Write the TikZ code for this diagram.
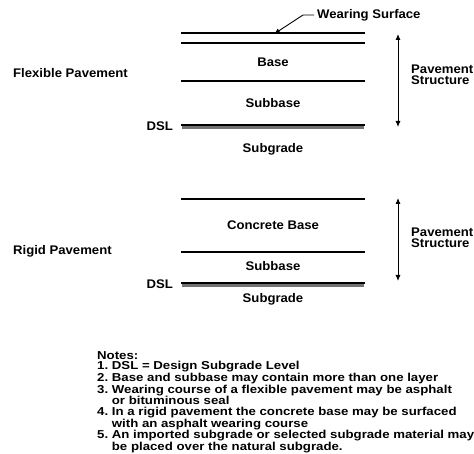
\documentclass[tikz,border=0pt]{standalone}
\usepackage{fontspec}
\setmainfont{Liberation Sans}
\newfontfamily\widesans[FakeStretch=1.15]{Liberation Sans}
\newfontfamily\lblsans[FakeStretch=1.05]{Liberation Sans}
\usetikzlibrary{arrows.meta,positioning}

\tikzset{
	layer/.style={line width=1.4pt},
	band/.style={fill=black!55},
	lbl/.style={font=\lblsans\fontsize{12.5}{11}\selectfont\bfseries, inner sep=0pt},
	side/.style={lbl, anchor=west, align=left},
	notes/.style={font=\widesans\fontsize{11.5}{10.5}\selectfont\bfseries\frenchspacing, inner sep=0pt, anchor=north west, align=left},
	pstruct/.style={line width=0.9pt, {Latex[length=6pt,width=5pt]}-{Latex[length=6pt,width=5pt]}},
}

\begin{document}
\begin{tikzpicture}[x=1pt, y=-1pt]
			%%%%% START %%%%%
			\useasboundingbox (0,0) rectangle (474,454);
			
			% flexible pavement
			\draw[layer] (181,33) -- (365,33);
			\draw[layer] (181,43) -- (365,43);
			\draw[layer] (181,81) -- (365,81);
			\fill[band] (182,125) rectangle (364,129.5);
			\draw[layer] (181,125) -- (365,125);
			
			\node[lbl, anchor=west] (wsurf) at (317,15) {Wearing Surface};
			\coordinate (wsend) at (274,34);
			\draw[line width=0.9pt, -{Latex[length=6pt,width=5pt]}] ([xshift=-3pt]wsurf.west) -- ++(-11,0) -- (wsend);
			
			\node[lbl] (fbase) at (273,62) {Base};
			\node[lbl] (fsubbase) at (273,103) {Subbase};
			\node[lbl] (fsubgrade) at (273,149) {Subgrade};
			\node[lbl, anchor=east] (fdsl) at (173,126) {DSL};
			\node[side] (flex) at (13,73) {Flexible Pavement};
			
			\coordinate (ftop) at (398,34);
			\coordinate (fbot) at (398,127);
			\draw[pstruct] (ftop) -- (fbot);
			\node[side] (fps) at (411,75) {Pavement\\Structure};
			
			% rigid pavement
			\draw[layer] (181,199) -- (365,199);
			\draw[layer] (181,252) -- (365,252);
			\fill[band] (182,283) rectangle (364,287.5);
			\draw[layer] (181,283) -- (365,283);
			
			\node[lbl] (rbase) at (273,225) {Concrete Base};
			\node[lbl] (rsubbase) at (273,266) {Subbase};
			\node[lbl] (rsubgrade) at (273,299) {Subgrade};
			\node[lbl, anchor=east] (rdsl) at (173,284) {DSL};
			\node[side] (rigid) at (13,251) {Rigid Pavement};
			
			\coordinate (rtop) at (398,198);
			\coordinate (rbot) at (398,281);
			\draw[pstruct] (rtop) -- (rbot);
			\node[side] (rps) at (411,238) {Pavement\\Structure};
			
			% notes
			\node[notes] (notes) at (97,351) {Notes:\\
				1. DSL = Design Subgrade Level\\
				2. Base and subbase may contain more than one layer\\
				3. Wearing course of a flexible pavement may be asphalt\\
				\hphantom{3. }or bituminous seal\\
				4. In a rigid pavement the concrete base may be surfaced\\
				\hphantom{4. }with an asphalt wearing course\\
				5. An imported subgrade or selected subgrade material may\\
				\hphantom{5. }be placed over the natural subgrade.};
			%%%%% END %%%%%
\end{tikzpicture}
\end{document}
